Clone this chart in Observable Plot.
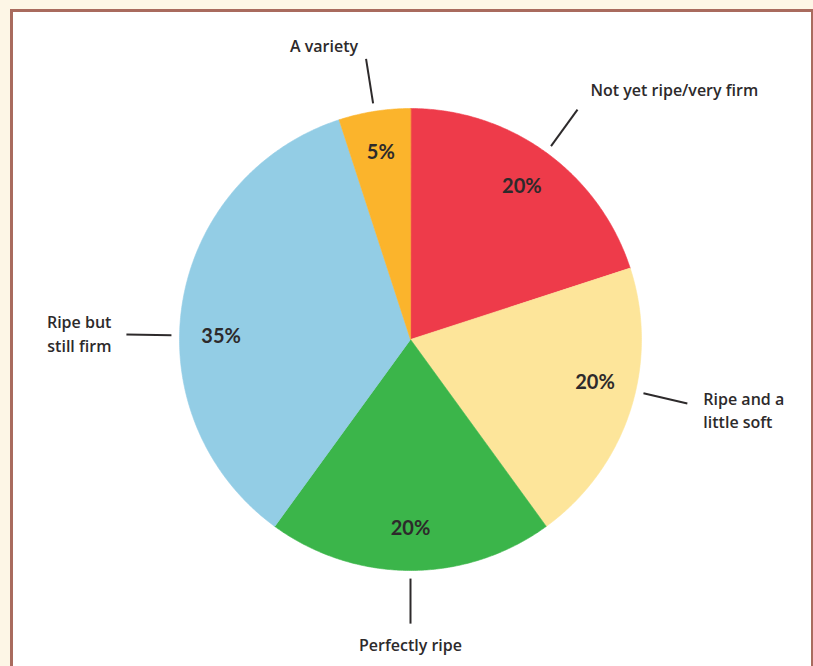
<!DOCTYPE html>
<html>
<head>
<meta charset="utf-8">
<script src="https://cdn.jsdelivr.net/npm/d3@7"></script>
<script src="https://cdn.jsdelivr.net/npm/@observablehq/plot@0.6"></script>
<style>
  html, body { margin: 0; padding: 0; background: #fdf6e6; overflow: hidden; width: 813px; height: 666px; }
  #frame { position: absolute; left: 10px; top: 9px; width: 798px; height: 720px;
           border-left: 3px solid #a96b5e; border-top: 3px solid #a96b5e; border-right: 2px solid #a96b5e;
           background: #ffffff; }
  #chart { position: absolute; left: 0; top: 0; }
</style>
</head>
<body>
<div id="frame"></div>
<div id="chart"></div>
<script>
// ---- data ----
const categories = ["Not yet ripe/very firm", "Ripe and a little soft", "Perfectly ripe", "Ripe but still firm", "A variety"];
const calloutText = ["Not yet ripe/very firm", "Ripe and a\nlittle soft", "Perfectly ripe", "Ripe but\nstill firm", "A variety"];
const shares = [20, 20, 20, 35, 5];
const percentLabels = ["20%", "20%", "20%", "35%", "5%"];
const sliceColors = ["#ee3b4a", "#fde59a", "#3bb54a", "#93cde5", "#fbb42c"];

// ---- layout ----
const W = 813, H = 666, cx = 410, cy = 339, R = 231;
const angleShift = [0, -5, 0, -8, 0];
const callout = [
  {dx: 13, dy: -21, anchor: "start"},
  {dx: 16, dy: 6, anchor: "start"},
  {dx: 0, dy: 20, anchor: "middle"},
  {dx: -15, dy: -2, anchor: "end"},
  {dx: -8, dy: -14, anchor: "end"}
];
const ink = "#2d2a2b";

const total = d3.sum(shares);
let acc = 0;
const slices = shares.map((v, i) => {
  const a0 = acc / total * 360; acc += v; const a1 = acc / total * 360;
  return {i, cat: categories[i], a0, a1, mid: (a0 + a1) / 2 + angleShift[i]};
});
const rad = a => a * Math.PI / 180;
const px = (r, a) => r * Math.sin(rad(a));
const py = (r, a) => r * Math.cos(rad(a));

const marks = [];
slices.forEach(s => {
  const pts = [{x: 0, y: 0}];
  const n = Math.max(4, Math.ceil(s.a1 - s.a0) * 2);
  for (let k = 0; k <= n; k++) {
    const a = s.a0 + (s.a1 - s.a0) * k / n;
    pts.push({x: px(1, a), y: py(1, a)});
  }
  marks.push(Plot.line(pts, {x: "x", y: "y", curve: "linear-closed",
    fill: sliceColors[s.i], stroke: sliceColors[s.i], strokeWidth: 0.6}));
});

marks.push(Plot.link(slices, {
  x1: s => px(1.035, s.mid), y1: s => py(1.035, s.mid),
  x2: s => px(1.23, s.mid), y2: s => py(1.23, s.mid),
  stroke: ink, strokeWidth: 2
}));

marks.push(Plot.text(slices, {
  x: s => px(0.82, s.mid), y: s => py(0.82, s.mid),
  text: s => percentLabels[s.i],
  fontSize: 20, fontWeight: 700, fill: ink
}));

slices.forEach(s => {
  const c = callout[s.i];
  marks.push(Plot.text([s], {
    x: d => px(1.23, d.mid) + c.dx / R,
    y: d => py(1.23, d.mid) - c.dy / R,
    text: d => calloutText[d.i],
    textAnchor: c.anchor, lineAnchor: "middle", lineHeight: 1.45,
    fontFamily: "'Open Sans', Lato, sans-serif",
    fontSize: 16, fontWeight: 600, fill: ink
  }));
});

const chart = Plot.plot({
  width: W, height: H,
  marginTop: 0, marginRight: 0, marginBottom: 0, marginLeft: 0,
  x: {domain: [-cx / R, (W - cx) / R], range: [0, W], axis: null},
  y: {domain: [-(H - cy) / R, cy / R], range: [H, 0], axis: null},
  style: {fontFamily: "Lato, 'Open Sans', sans-serif", background: "transparent", overflow: "visible"},
  marks
});
document.getElementById("chart").appendChild(chart);
</script>
</body>
</html>
